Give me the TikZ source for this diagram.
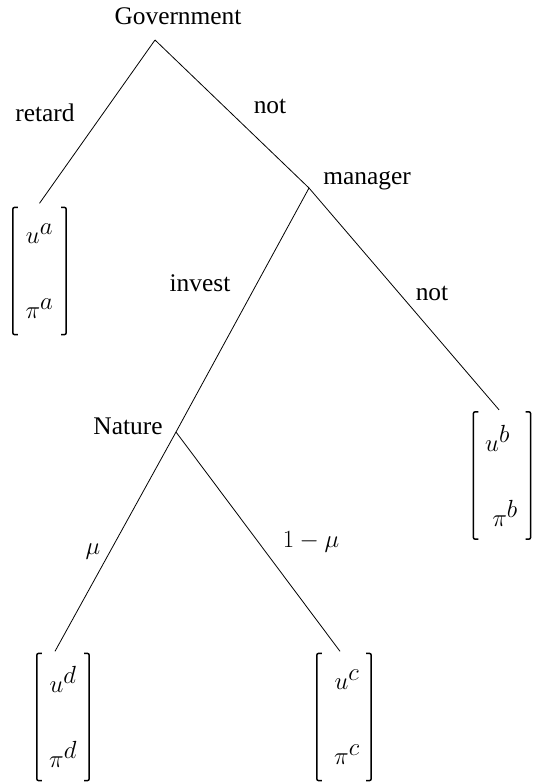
\documentclass[tikz,border=0pt]{standalone}
\usepackage[no-math]{fontspec}
\setmainfont{Liberation Serif}
\tikzset{
  edge/.style={line width=0.8bp, black},
  lbl/.style={font=\fontsize{25.5}{30}\selectfont, inner sep=0pt},
  mlbl/.style={font=\fontsize{28}{32}\selectfont, inner sep=0pt},
  payoff/.style={font=\fontsize{34}{40}\selectfont, minimum height=127bp, inner sep=0pt, align=center},
  brk/.style={line width=1.5bp, rounded corners=2bp}
}
\newcommand\paybrackets[1]{%
  \draw[brk] ([xshift=5bp]#1.north west) -- (#1.north west) -- (#1.south west) -- ([xshift=5bp]#1.south west);
  \draw[brk] ([xshift=-5bp]#1.north east) -- (#1.north east) -- (#1.south east) -- ([xshift=-5bp]#1.south east);}
\begin{document}
\begin{tikzpicture}[x=1bp,y=-1bp]
\useasboundingbox (0,0) rectangle (534,782);
% vertices
\coordinate (gov) at (155,40);
\coordinate (mgr) at (309,188);
\coordinate (nat) at (176,432);
% payoff vectors
\node[payoff, minimum width=53bp] (a) at (39.5,271) {$u^a$\\[35bp]$\pi^a$};
\node[payoff, minimum width=57bp] (b) at (502,475.5) {$u^b$\hspace*{9bp}\\[35bp]\hspace*{6bp}$\pi^b$};
\node[payoff, minimum width=52bp] (d) at (63,717) {$u^d$\\[35bp]$\pi^d$};
\node[payoff, minimum width=54bp] (c) at (344,717) {\hspace*{6bp}$u^c$\\[35bp]\hspace*{6bp}$\pi^c$};
\paybrackets{a}
\paybrackets{b}
\paybrackets{d}
\paybrackets{c}
% edges
\draw[edge] (gov) -- ([yshift=4bp]a.north);
\draw[edge] (gov) -- (mgr);
\draw[edge] (mgr) -- ([xshift=-3bp,yshift=2bp]b.north);
\draw[edge] (mgr) -- (nat);
\draw[edge] (nat) -- ([xshift=-8bp,yshift=2bp]d.north);
\draw[edge] (nat) -- ([xshift=-4bp,yshift=2bp]c.north);
% labels
\node[lbl] (govl) at (178,16) {Government};
\node[lbl] (retl) at (45,113) {retard};
\node[lbl] (not1) at (270,106) {not};
\node[lbl] (mgrl) at (367,181) {manager};
\node[lbl] (invl) at (200,283) {invest};
\node[lbl] (not2) at (432,293) {not};
\node[lbl] (natl) at (128,426) {Nature};
\node[mlbl] (mul) at (93,552) {$\mu$};
\node[mlbl] (oml) at (311,542) {$1-\mu$};
\end{tikzpicture}
\end{document}
